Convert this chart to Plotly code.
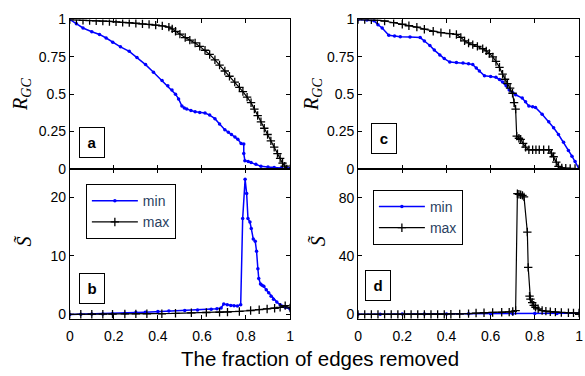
import plotly.graph_objects as go

# ---- Panel a: relative giant-component size vs fraction of edges removed ----
a_min_x = [0, 0.03, 0.06, 0.1, 0.135, 0.165, 0.195, 0.23, 0.27, 0.305, 0.344, 0.38, 0.419,
           0.445, 0.464, 0.48, 0.494, 0.509, 0.52, 0.531, 0.55, 0.569, 0.59, 0.614, 0.635,
           0.659, 0.68, 0.704, 0.72, 0.734, 0.75, 0.763, 0.778, 0.79, 0.79, 0.795, 0.81,
           0.823, 0.845, 0.868, 0.9, 0.928, 0.96, 0.988, 1.0]
a_min_y = [1.0, 0.972, 0.943, 0.918, 0.9, 0.876, 0.847, 0.817, 0.787, 0.745, 0.698, 0.647,
           0.591, 0.556, 0.528, 0.5, 0.468, 0.421, 0.408, 0.4, 0.39, 0.383, 0.378, 0.374,
           0.36, 0.336, 0.3, 0.262, 0.245, 0.23, 0.213, 0.198, 0.17, 0.166, 0.102, 0.055,
           0.049, 0.043, 0.03, 0.017, 0.012, 0.009, 0.006, 0.004, 0.0]
a_max_x = [0, 0.03, 0.06, 0.09, 0.12, 0.15, 0.18, 0.21, 0.24, 0.27, 0.3, 0.33, 0.36, 0.39,
           0.42, 0.45, 0.465, 0.48, 0.5, 0.524, 0.545, 0.569, 0.59, 0.614, 0.635, 0.659,
           0.68, 0.704, 0.725, 0.749, 0.77, 0.786, 0.805, 0.823, 0.838, 0.853, 0.868, 0.883,
           0.898, 0.913, 0.928, 0.943, 0.955, 0.966, 0.976, 0.985, 1.0]
a_max_y = [1.0, 0.997, 0.995, 0.993, 0.991, 0.989, 0.987, 0.984, 0.981, 0.979, 0.975, 0.971,
           0.967, 0.962, 0.957, 0.949, 0.937, 0.921, 0.902, 0.879, 0.862, 0.843, 0.82, 0.794,
           0.766, 0.73, 0.695, 0.655, 0.62, 0.581, 0.546, 0.517, 0.48, 0.443, 0.4, 0.357,
           0.315, 0.272, 0.23, 0.187, 0.145, 0.102, 0.07, 0.038, 0.018, 0.0, 0.0]

# ---- Panel b: normalized size of the second component ----
b_min_x = [0, 0.05, 0.1, 0.15, 0.194, 0.25, 0.3, 0.343, 0.4, 0.45, 0.522, 0.58, 0.642,
           0.668, 0.687, 0.699, 0.715, 0.731, 0.746, 0.761, 0.776, 0.785, 0.796, 0.803,
           0.809, 0.818, 0.824, 0.833, 0.842, 0.848, 0.854, 0.858, 0.866, 0.873, 0.881,
           0.892, 0.903, 0.914, 0.925, 0.94, 0.955, 0.966, 0.978, 1.0]
b_min_y = [0.0, 0.03, 0.06, 0.08, 0.11, 0.2, 0.3, 0.38, 0.48, 0.56, 0.66, 0.76, 0.88,
           0.95, 1.1, 1.76, 1.65, 1.54, 1.48, 1.43, 1.65, 16.4, 23.1, 20.7,
           16.4, 15.8, 14.7, 12.9, 12.5, 10.8, 7.8, 6.15, 5.2, 5.0, 4.8,
           4.2, 3.7, 3.1, 2.6, 2.1, 1.65, 1.4, 1.2, 0.93]
b_max_x = [0, 0.05, 0.1, 0.15, 0.194, 0.25, 0.3, 0.35, 0.418, 0.48, 0.552, 0.62, 0.68,
           0.716, 0.77, 0.821, 0.86, 0.896, 0.93, 0.955, 0.978, 1.0]
b_max_y = [0.0, 0.01, 0.02, 0.03, 0.05, 0.07, 0.09, 0.1, 0.11, 0.18, 0.27, 0.32, 0.36,
           0.38, 0.5, 0.66, 0.8, 0.93, 1.05, 1.2, 1.5, 1.1]

# ---- Panel c ----
c_min_x = [0, 0.04, 0.072, 0.09, 0.109, 0.139, 0.165, 0.191, 0.235, 0.281, 0.3, 0.325,
           0.345, 0.37, 0.39, 0.415, 0.445, 0.475, 0.5, 0.519, 0.535, 0.549, 0.572, 0.6,
           0.624, 0.64, 0.654, 0.67, 0.684, 0.7, 0.713, 0.743, 0.758, 0.773, 0.79, 0.803,
           0.833, 0.863, 0.885, 0.907, 0.93, 0.952, 0.968, 0.982, 1.0]
c_min_y = [1.0, 0.996, 0.991, 0.965, 0.943, 0.894, 0.889, 0.885, 0.882, 0.879, 0.856, 0.826,
           0.795, 0.762, 0.738, 0.715, 0.712, 0.709, 0.704, 0.698, 0.675, 0.655, 0.623, 0.618,
           0.613, 0.598, 0.581, 0.556, 0.528, 0.51, 0.496, 0.474, 0.45, 0.421, 0.415, 0.411,
           0.365, 0.315, 0.275, 0.23, 0.178, 0.123, 0.085, 0.049, 0.0]
c_max_x = [0, 0.03, 0.06, 0.087, 0.12, 0.161, 0.2, 0.23, 0.266, 0.3, 0.34, 0.375, 0.415,
           0.445, 0.465, 0.482, 0.5, 0.519, 0.54, 0.564, 0.58, 0.594, 0.61, 0.624, 0.64,
           0.654, 0.665, 0.676, 0.688, 0.699, 0.706, 0.713, 0.718, 0.728, 0.736, 0.747,
           0.758, 0.773, 0.79, 0.805, 0.82, 0.84, 0.863, 0.875, 0.885, 0.897, 0.907, 0.922,
           0.94, 0.96, 0.982, 1.0]
c_max_y = [1.0, 0.999, 0.998, 0.996, 0.99, 0.979, 0.968, 0.958, 0.949, 0.935, 0.921, 0.912,
           0.906, 0.9, 0.88, 0.857, 0.843, 0.832, 0.82, 0.804, 0.79, 0.772, 0.75, 0.719, 0.68,
           0.634, 0.6, 0.57, 0.54, 0.506, 0.443, 0.4, 0.219, 0.205, 0.198, 0.17,
           0.145, 0.128, 0.128, 0.128, 0.128, 0.128, 0.128, 0.105, 0.081, 0.045, 0.017, 0.006,
           0.004, 0.003, 0.002, 0.0]

# ---- Panel d ----
d_min_x = [0, 0.1, 0.2, 0.3, 0.4, 0.5, 0.6, 0.7, 0.8, 0.9, 1.0]
d_min_y = [0.1, 0.15, 0.2, 0.25, 0.3, 0.35, 0.4, 0.45, 0.5, 0.6, 0.7]
d_max_x = [0, 0.03, 0.06, 0.09, 0.12, 0.15, 0.18, 0.21, 0.24, 0.27, 0.3, 0.33, 0.36, 0.39,
           0.42, 0.46, 0.5, 0.534, 0.57, 0.609, 0.65, 0.684, 0.7, 0.713, 0.721, 0.728,
           0.736, 0.744, 0.751, 0.766, 0.770, 0.776, 0.78, 0.788, 0.795, 0.803, 0.815,
           0.833, 0.85, 0.87, 0.893, 0.92, 0.952, 0.975, 1.0]
d_max_y = [0.0, 0.0, 0.0, 0.0, 0.0, 0.0, 0.0, 0.0, 0.0, 0.0, 0.0, 0.0, 0.0, 0.0,
           0.1, 0.2, 0.5, 0.88, 1.1, 1.3, 1.4, 1.5, 2.0, 2.6, 82.7, 82.3,
           82.0, 81.5, 80.5, 56.4, 32.2, 12.5, 10.5, 8.1, 6.2, 4.8, 3.8,
           2.6, 2.2, 1.8, 1.5, 1.3, 1.1, 1.0, 0.88]

x_ticks = [0, 0.2, 0.4, 0.6, 0.8, 1.0]
x_ticktext = ["0", "0.2", "0.4", "0.6", "0.8", "1"]
rgc_ticks = [0, 0.25, 0.5, 0.75, 1.0]
rgc_ticktext = ["0", "0.25", "0.5", "0.75", "1"]
sb_ticks = [0, 10, 20]
sd_ticks = [0, 40, 80]

W, H = 585, 376
BLUE = "rgb(0,0,255)"
BLACK = "black"
SANS = "Liberation Sans, Arial, sans-serif"

fig = go.Figure()


def add_pair(xmin, ymin, xmax, ymax, xa, ya, legend=None):
    show = legend is not None
    fig.add_trace(go.Scatter(
        x=xmin, y=ymin, mode="lines+markers", name="min",
        line=dict(color=BLUE, width=1.5),
        marker=dict(symbol="circle", size=3.5, color=BLUE),
        xaxis=xa, yaxis=ya, showlegend=show, legend=legend or "legend"))
    fig.add_trace(go.Scatter(
        x=xmax, y=ymax, mode="lines+markers", name="max",
        line=dict(color=BLACK, width=1.2),
        marker=dict(symbol="cross-thin", size=6, color=BLACK,
                    line=dict(color=BLACK, width=1.3)),
        xaxis=xa, yaxis=ya, showlegend=show, legend=legend or "legend"))


add_pair(a_min_x, a_min_y, a_max_x, a_max_y, "x", "y")
add_pair(b_min_x, b_min_y, b_max_x, b_max_y, "x2", "y2", legend="legend")
add_pair(c_min_x, c_min_y, c_max_x, c_max_y, "x3", "y3")
add_pair(d_min_x, d_min_y, d_max_x, d_max_y, "x4", "y4", legend="legend2")

# panel geometry (pixels)
left_x = (66.7, 290.0)
right_x = (359.0, 583.0)
top_y = (12.0, 168.0)
bot_y = (168.0, 325.0)


def xd(p):
    return [p[0] / W, p[1] / W]


def yd(p):
    return [1 - p[1] / H, 1 - p[0] / H]


tick_font = dict(family=SANS, size=14, color="black")
common = dict(showline=True, linecolor="black", linewidth=1, mirror="ticks",
              ticks="inside", ticklen=4, tickcolor="black", showgrid=False,
              zeroline=False, tickfont=tick_font)

legend_style = dict(xanchor="left", yanchor="top", bordercolor="black", borderwidth=1,
                    bgcolor="white", tracegroupgap=0, itemwidth=46,
                    font=dict(family=SANS, size=14))

fig.update_layout(
    width=W, height=H, margin=dict(l=0, r=0, t=0, b=0),
    paper_bgcolor="white", plot_bgcolor="white",
    xaxis=dict(domain=xd(left_x), anchor="y", range=[0, 1], tickvals=x_ticks,
               showticklabels=False, **common),
    yaxis=dict(domain=yd(top_y), anchor="x", range=[0, 1], tickvals=rgc_ticks,
               ticktext=rgc_ticktext, **common),
    xaxis2=dict(domain=xd(left_x), anchor="y2", range=[0, 1], tickvals=x_ticks,
                ticktext=x_ticktext, ticklabelstandoff=4, **common),
    yaxis2=dict(domain=yd(bot_y), anchor="x2", range=[-0.82, 24.9], tickvals=sb_ticks,
                **common),
    xaxis3=dict(domain=xd(right_x), anchor="y3", range=[0, 1], tickvals=x_ticks,
                showticklabels=False, **common),
    yaxis3=dict(domain=yd(top_y), anchor="x3", range=[0, 1], tickvals=rgc_ticks,
                ticktext=rgc_ticktext, **common),
    xaxis4=dict(domain=xd(right_x), anchor="y4", range=[0, 1], tickvals=x_ticks,
                ticktext=x_ticktext, ticklabelstandoff=4, **common),
    yaxis4=dict(domain=yd(bot_y), anchor="x4", range=[-3.3, 99.7], tickvals=sd_ticks,
                **common),
    legend=dict(x=83 / W, y=1 - 184 / H, **legend_style),
    legend2=dict(x=374 / W, y=1 - 190 / H, **legend_style),
)

# panel letters in boxes
for letter, cx, cy in [("a", 89.5, 140.5), ("b", 89.0, 292.5),
                       ("c", 385.5, 136.5), ("d", 379.5, 290.0)]:
    fig.add_annotation(
        x=cx / W, y=1 - cy / H, xref="paper", yref="paper", showarrow=False,
        xanchor="center", yanchor="middle",
        text=f"<b>{letter}</b>", width=20, height=25, borderpad=2,
        bordercolor="black", borderwidth=1, bgcolor="white",
        font=dict(family=SANS, size=15, color="black"))

# y-axis titles
serif = dict(family="Liberation Serif, Times New Roman, serif", size=20, color="black")
for txt, cx, cy in [("<i>R</i><sub><i>GC</i></sub>", 17, 90),
                    ("<i>S\u0303</i>", 20, 243),
                    ("<i>R</i><sub><i>GC</i></sub>", 312, 90),
                    ("<i>S\u0303</i>", 318, 243)]:
    fig.add_annotation(x=cx / W, y=1 - cy / H, xref="paper", yref="paper",
                       xanchor="center", yanchor="middle",
                       showarrow=False, text=txt, textangle=-90, font=serif)

# shared x-axis title
fig.add_annotation(x=320 / W, y=1 - 366 / H, xref="paper", yref="paper",
                   xanchor="center", yanchor="middle",
                   showarrow=False, text="The fraction of edges removed",
                   font=dict(family=SANS, size=20.5, color="black"))

fig.write_html("out.html")
